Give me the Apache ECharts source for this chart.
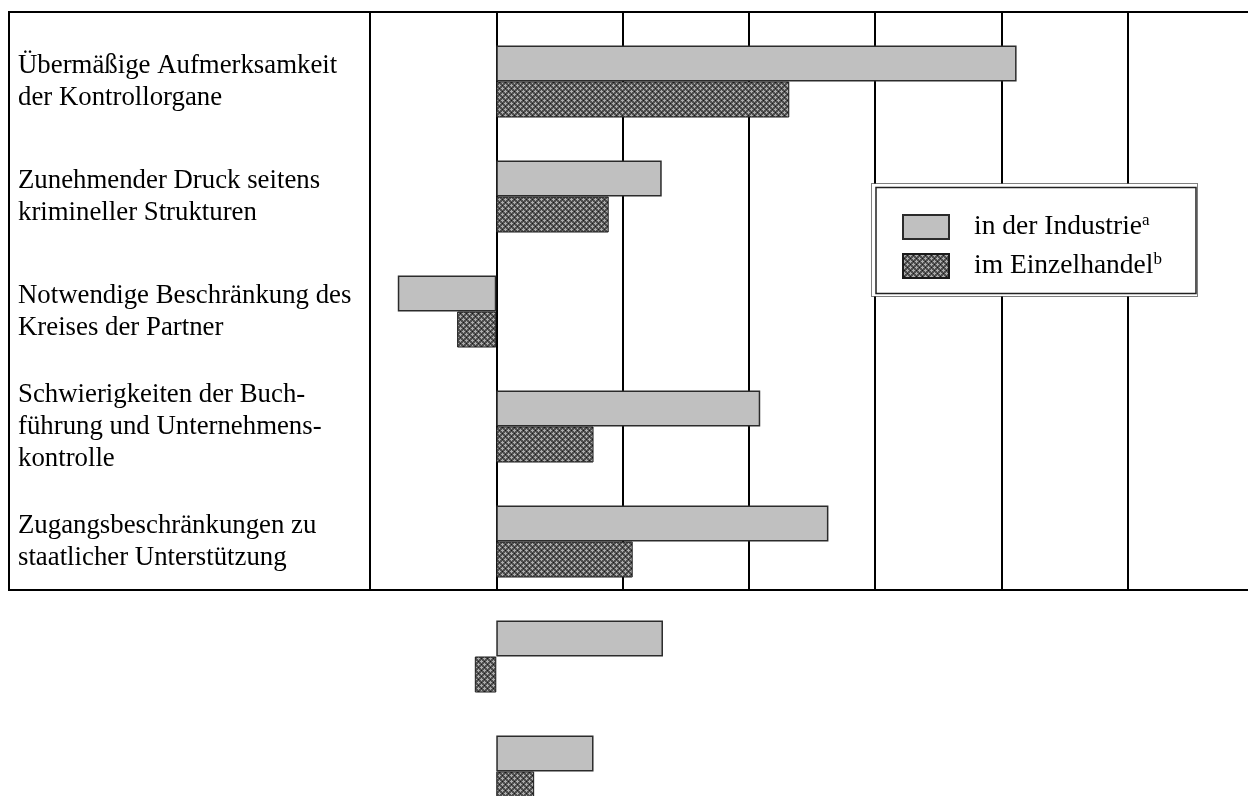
<!DOCTYPE html>
<html>
<head>
<meta charset="utf-8">
<script src="https://cdn.jsdelivr.net/npm/echarts@6/dist/echarts.min.js"></script>
<style>
  html, body { margin: 0; padding: 0; background: #fff; }
  #chart { width: 1248px; height: 796px; }
</style>
</head>
<body>
<div id="chart"></div>
<script>
// Row labels (the last two rows carry no label in the table)
const categories = [
  'Übermäßige Aufmerksamkeit\nder Kontrollorgane',
  'Zunehmender Druck seitens\nkrimineller Strukturen',
  'Notwendige Beschränkung des\nKreises der Partner',
  'Schwierigkeiten der Buch-\nführung und Unternehmens-\nkontrolle',
  'Zugangsbeschränkungen zu\nstaatlicher Unterstützung',
  '',
  ''
];
const seriesNames = ['in der Industrie', 'im Einzelhandel'];
const footnotes = ['a', 'b'];
const industrie = [41.2, 13.1, -7.8, 20.9, 26.3, 13.2, 7.7];
const einzelhandel = [23.2, 8.9, -3.1, 7.7, 10.8, -1.7, 3.0];
const axisMin = -10;
const axisMax = 60;
const axisStep = 10;

const FONT = '"Liberation Serif", "Times New Roman", serif';

// small cross-hatch tile used as the fill of the retail bars
function crossHatch() {
  const c = document.createElement('canvas');
  c.width = 6; c.height = 6;
  const g = c.getContext('2d');
  g.fillStyle = '#505050';
  g.fillRect(0, 0, 6, 6);
  g.fillStyle = '#acacac';
  [[1,0],[0,1],[1,1],[2,1],[1,2],[4,3],[3,4],[4,4],[5,4],[4,5]]
    .forEach(([x, y]) => g.fillRect(x, y, 1, 1));
  g.fillStyle = '#1a1a1a';
  [[4,1],[1,4]].forEach(([x, y]) => g.fillRect(x, y, 1, 1));
  return c;
}
const hatchFill = { image: crossHatch(), repeat: 'repeat' };

const chart = echarts.init(document.getElementById('chart'), null, { renderer: 'canvas' });

const option = {
  animation: false,
  backgroundColor: '#fff',
  grid: [
    // table cell holding the vertical value lines
    { left: 370, right: -6, top: 12, bottom: 206, outerBoundsMode: 'none' },
    // bar rows
    { left: 370, right: -6, top: 24, bottom: -33, outerBoundsMode: 'none' }
  ],
  xAxis: [
    {
      gridIndex: 0, type: 'value', min: axisMin, max: axisMax, interval: axisStep,
      axisLine: { show: false }, axisTick: { show: false }, axisLabel: { show: false },
      splitLine: { show: true, lineStyle: { color: '#000', width: 2 } }
    },
    { gridIndex: 1, type: 'value', min: axisMin, max: axisMax, interval: axisStep, show: false }
  ],
  yAxis: [
    { gridIndex: 0, type: 'value', min: 0, max: 1, show: false },
    {
      gridIndex: 1, type: 'category', inverse: true, data: categories,
      axisLine: { show: false }, axisTick: { show: false }, splitLine: { show: false },
      axisLabel: {
        interval: 0, align: 'left', margin: 352,
        fontFamily: FONT, fontSize: 26.8, lineHeight: 32, color: '#000',
        padding: [12, 0, 0, 0]
      }
    }
  ],
  legend: {
    orient: 'vertical', left: 902, top: 212, padding: 0, z: 20,
    icon: 'rect',
    itemWidth: 46, itemHeight: 24, itemGap: 10,
    selectedMode: false,
    data: seriesNames,
    formatter: name => `{n|${name}}{s|${footnotes[seriesNames.indexOf(name)]}}`,
    textStyle: {
      color: '#000', fontFamily: FONT, fontSize: 27.5,
      rich: {
        n: { fontFamily: FONT, fontSize: 27.5, color: '#000', lineHeight: 30, padding: [0, 0, 0, 20] },
        s: { fontFamily: FONT, fontSize: 17, color: '#000', lineHeight: 17, verticalAlign: 'top' }
      }
    }
  },
  graphic: [
    // table frame
    {
      type: 'rect', silent: true, z: 5,
      shape: { x: 9, y: 12, width: 1260, height: 578 },
      style: { fill: 'none', stroke: '#000', lineWidth: 2 }
    },
    // legend frame: dotted outer edge, solid inner edge
    {
      type: 'rect', silent: true, z: 5,
      shape: { x: 871.5, y: 183.5, width: 326, height: 113 },
      style: { fill: '#fff', stroke: '#000', lineWidth: 1, lineDash: [1, 1] }
    },
    {
      type: 'rect', silent: true, z: 6,
      shape: { x: 876, y: 187.5, width: 320, height: 106 },
      style: { fill: '#fff', stroke: '#222', lineWidth: 1.5 }
    }
  ],
  series: [
    {
      name: seriesNames[0], type: 'bar', xAxisIndex: 1, yAxisIndex: 1,
      data: industrie, barWidth: 36, barGap: '0%',
      itemStyle: { color: '#c0c0c0', borderColor: '#2b2b2b', borderWidth: 1.5 }
    },
    {
      name: seriesNames[1], type: 'bar', xAxisIndex: 1, yAxisIndex: 1,
      data: einzelhandel, barWidth: 36, barGap: '0%',
      itemStyle: { color: hatchFill, borderColor: '#1a1a1a', borderWidth: 1 }
    }
  ]
};

chart.setOption(option);
</script>
</body>
</html>
